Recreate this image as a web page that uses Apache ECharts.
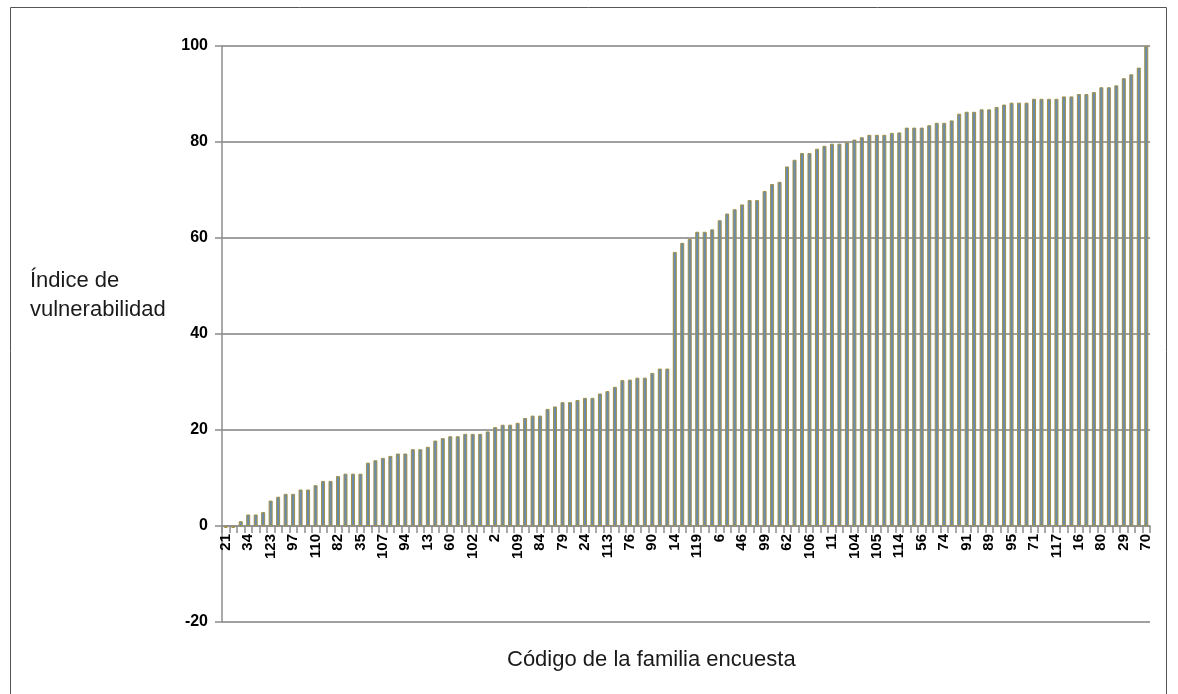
<!DOCTYPE html>
<html>
<head>
<meta charset="utf-8">
<script src="https://cdn.jsdelivr.net/npm/echarts@6/dist/echarts.min.js"></script>
<style>
html,body{margin:0;padding:0;background:#fff;}
#chart{width:1178px;height:694px;}
</style>
</head>
<body>
<div id="chart"></div>
<script>
// Visible tick labels (every 3rd family code)
const tickLabels = ['21','34','123','97','110','82','35','107','94','13',
  '60','102','2','109','84','79','24','113','76','90',
  '14','119','6','46','99','62','106','11','104','105',
  '114','56','74','91','89','95','71','117','16','80','29','70'];

// Vulnerability index per family (sorted ascending), 124 families
const values = [
  -0.4, -0.4, 1.0, 2.4, 2.4, 2.9, 5.3, 6.1, 6.7, 6.7,
  7.6, 7.6, 8.5, 9.4, 9.4, 10.4, 10.9, 10.9, 10.9, 13.2,
  13.7, 14.2, 14.6, 15.1, 15.1, 16.0, 16.0, 16.5, 17.8, 18.3,
  18.7, 18.7, 19.2, 19.2, 19.2, 19.7, 20.6, 21.1, 21.1, 21.5,
  22.5, 23.0, 23.0, 24.4, 24.9, 25.8, 25.8, 26.25, 26.7, 26.7,
  27.6, 28.1, 29.0, 30.4, 30.5, 30.9, 30.9, 31.9, 32.8, 32.8,
  57.1, 59.0, 59.8, 61.3, 61.3, 61.8, 63.7, 65.1, 66.0, 67.0,
  67.9, 67.9, 69.8, 71.25, 71.7, 74.9, 76.3, 77.7, 77.7, 78.6,
  79.2, 79.65, 79.65, 79.9, 80.5, 81.0, 81.5, 81.5, 81.5, 81.9,
  82.0, 83.0, 83.0, 83.0, 83.5, 84.0, 84.0, 84.5, 85.9, 86.3,
  86.3, 86.8, 86.8, 87.3, 87.8, 88.2, 88.2, 88.2, 89.0, 89.0,
  89.0, 89.0, 89.5, 89.5, 90.0, 90.0, 90.4, 91.4, 91.4, 91.8,
  93.3, 94.1, 95.5, 100.0
];

const yTicks = {min: -20, max: 100, step: 20};
const yTitle = 'Índice de\nvulnerabilidad';
const xTitle = 'Código de la familia encuesta';

const categories = values.map((v, i) => (i % 3 === 0 ? tickLabels[i / 3] : ''));

const gridTop = 46, gridBottom = 72, chartH = 694;
// distance (px) from plot bottom (value = min) up to value 0
const zeroOffset = (chartH - gridTop - gridBottom) * (0 - yTicks.min) / (yTicks.max - yTicks.min);

const chart = echarts.init(document.getElementById('chart'), null, {renderer: 'canvas'});
chart.setOption({
  animation: false,
  backgroundColor: '#ffffff',
  grid: {left: 222, right: 28, top: gridTop, bottom: gridBottom, containLabel: false},
  xAxis: {
    type: 'category',
    data: categories,
    boundaryGap: true,
    offset: -zeroOffset,
    axisLine: {show: true, onZero: false, lineStyle: {color: '#8c8c8c', width: 1.5}},
    axisTick: {show: true, interval: 0, length: 7, inside: false, lineStyle: {color: '#8c8c8c', width: 1.5}},
    axisLabel: {
      interval: 0, rotate: 90, margin: 8,
      fontFamily: 'Liberation Sans, Arial, sans-serif', fontWeight: 'bold', fontSize: 15, color: '#000'
    },
    splitLine: {show: false}
  },
  yAxis: {
    type: 'value',
    min: yTicks.min, max: yTicks.max, interval: yTicks.step,
    axisLine: {show: true, lineStyle: {color: '#8c8c8c', width: 1.5}},
    axisTick: {show: true, length: 7, lineStyle: {color: '#8c8c8c', width: 1.5}},
    axisLabel: {
      margin: 14,
      fontFamily: 'Liberation Sans, Arial, sans-serif', fontWeight: 'bold', fontSize: 16, color: '#000'
    },
    splitLine: {show: true, lineStyle: {color: '#a0a0a0', width: 2}}
  },
  series: [{
    type: 'bar',
    data: values,
    barWidth: 4,
    itemStyle: {color: '#6a8cb0', borderColor: '#a09048', borderWidth: 1}
  }],
  graphic: [
    {
      type: 'rect', silent: true,
      shape: {x: 10.5, y: 7.5, width: 1156, height: 700},
      style: {fill: 'none', stroke: '#555', lineWidth: 1}
    },
    {
      type: 'text', left: 30, top: 266,
      style: {text: yTitle, font: '22px "Liberation Sans", Arial, sans-serif', fill: '#1a1a1a', lineHeight: 29}
    },
    {
      type: 'text', left: 507, top: 649,
      style: {text: xTitle, font: '22px "Liberation Sans", Arial, sans-serif', fill: '#1a1a1a'}
    }
  ]
});
</script>
</body>
</html>
